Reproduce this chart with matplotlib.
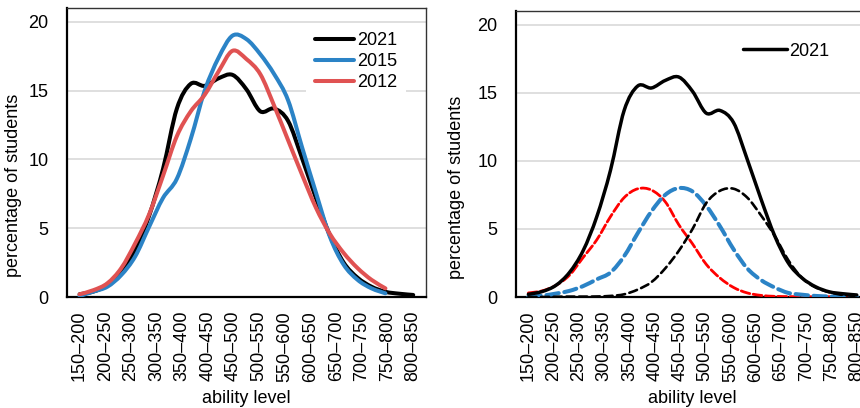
import numpy as np
import matplotlib
matplotlib.use("Agg")
import matplotlib.pyplot as plt
from matplotlib.path import Path
from matplotlib.patches import PathPatch
from matplotlib.lines import Line2D

plt.rcParams["font.family"] = ["Liberation Sans", "DejaVu Sans"]
plt.rcParams["font.size"] = 13

bands = ["150–200", "200–250", "250–300", "300–350", "350–400", "400–450",
         "450–500", "500–550", "550–600", "600–650", "650–700", "700–750",
         "750–800", "800–850"]

# values at 25 evenly spaced spots from the first band to the last
read_at = np.linspace(0, 13, 25)
pct_2021 = [0.2, 0.4, 0.85, 1.8, 3.4, 5.9, 9.3, 13.7, 15.5, 15.35, 15.9, 16.15, 15.1,
            13.5, 13.7, 12.8, 10.1, 7.2, 4.5, 2.5, 1.4, 0.75, 0.38, 0.24, 0.15]
# 2015 and 2012 stop at the 750–800 band
pct_2015 = [0.07, 0.4, 0.75, 1.6, 2.95, 5.1, 7.2, 8.6, 11.5, 15.0, 17.4, 19.0, 18.75,
            17.65, 16.2, 14.3, 10.9, 7.6, 4.4, 2.35, 1.25, 0.63, 0.27]
pct_2012 = [0.2, 0.5, 1.0, 2.1, 3.9, 6.0, 8.8, 11.7, 13.5, 14.7, 16.4, 17.9, 17.3,
            16.2, 13.9, 11.4, 8.9, 6.5, 4.6, 3.2, 2.1, 1.25, 0.63]
# right panel: three component curves under the 2021 distribution
comp_low = [0.3, 0.45, 0.85, 1.6, 2.9, 4.2, 5.9, 7.3, 7.95, 7.85, 7.0, 5.3, 3.9,
            2.4, 1.4, 0.7, 0.3, 0.12, 0.05, 0.03, 0.02, 0.02, 0.02, 0.02, 0.02]
comp_mid = [0.02, 0.1, 0.25, 0.45, 0.8, 1.3, 1.8, 3.0, 4.7, 6.3, 7.5, 8.0, 7.75,
            6.7, 5.2, 3.5, 2.1, 1.25, 0.7, 0.3, 0.17, 0.08, 0.04, 0.02, 0.02]
comp_high = [0.0, 0.0, 0.02, 0.03, 0.03, 0.04, 0.08, 0.2, 0.55, 1.1, 2.1, 3.4, 5.0,
             6.9, 7.8, 7.95, 7.3, 6.0, 4.5, 2.7, 1.4, 0.7, 0.35, 0.15, 0.08]

BLUE = "#2b83c6"
RED = "#e05252"


def smooth_line(ax, vals, **kw):
    """Draw the readings as a smoothed line (like a spreadsheet's 'smoothed line')."""
    pts = np.column_stack([read_at[:len(vals)], vals])
    verts, codes = [pts[0]], [Path.MOVETO]
    n = len(pts)
    for i in range(n - 1):
        p0, p1 = pts[max(i - 1, 0)], pts[i]
        p2, p3 = pts[i + 1], pts[min(i + 2, n - 1)]
        verts += [p1 + (p2 - p0) / 6, p2 - (p3 - p1) / 6, p2]
        codes += [Path.CURVE4] * 3
    patch = PathPatch(Path(verts, codes), fill=False, transform=ax.transData,
                      capstyle="round", joinstyle="round", **kw)
    ax.add_patch(patch)
    return patch


def style_axes(ax):
    ax.set_xlim(-0.5, 13.5)
    ax.set_ylim(0, 21)
    ax.set_yticks([0, 5, 10, 15, 20])
    ax.set_xticks(range(len(bands)))
    ax.set_xticklabels(bands, rotation=90)
    ax.tick_params(axis="both", length=0, labelsize=13)
    ax.tick_params(axis="y", pad=13)
    ax.tick_params(axis="x", pad=10)
    ax.grid(axis="y", color="#d9d9d9", lw=1.2)
    ax.set_axisbelow(True)
    for side in ("left", "bottom"):
        ax.spines[side].set_linewidth(1.6)
        ax.spines[side].set_color("black")
    for side in ("top", "right"):
        ax.spines[side].set_linewidth(1.0)
        ax.spines[side].set_color("#333333")
    ax.set_xlabel("ability level", fontsize=13, labelpad=6)


fig = plt.figure(figsize=(8.6, 4.08), dpi=100)
ax1 = fig.add_axes([0.0776, 0.272, 0.4178, 0.708])
ax2 = fig.add_axes([0.5997, 0.272, 0.4112, 0.701])

for ax in (ax1, ax2):
    style_axes(ax)

smooth_line(ax1, pct_2021, edgecolor="black", lw=2.9, zorder=3)
smooth_line(ax1, pct_2015, edgecolor=BLUE, lw=2.9, zorder=4)
smooth_line(ax1, pct_2012, edgecolor=RED, lw=2.9, zorder=5)
ax1.set_ylabel("percentage of students", fontsize=13)
ax1.yaxis.set_label_coords(-0.124, 0.387)
handles = [Line2D([], [], color=c, lw=2.9, solid_capstyle="round") for c in ("black", BLUE, RED)]
ax1.legend(handles, ["2021", "2015", "2012"], loc="upper left", bbox_to_anchor=(0.64, 0.98),
           handlelength=2.2, handletextpad=0.15, labelspacing=0.22, borderpad=0.5,
           fontsize=13, frameon=True, fancybox=False, framealpha=1, edgecolor="none")

smooth_line(ax2, comp_low, edgecolor="red", lw=2.0, linestyle=(0, (3.2, 1.25)), zorder=3)
smooth_line(ax2, comp_mid, edgecolor=BLUE, lw=2.9, linestyle=(0, (3.1, 1.4)), zorder=3)
smooth_line(ax2, comp_high, edgecolor="black", lw=1.9, linestyle=(0, (3.1, 1.7)), zorder=3)
smooth_line(ax2, pct_2021, edgecolor="black", lw=2.5, zorder=4)
ax2.set_ylabel("percentage of students", fontsize=13)
ax2.yaxis.set_label_coords(-0.143, 0.385)
ax2.legend([Line2D([], [], color="black", lw=2.5, solid_capstyle="round")], ["2021"],
           loc="upper left", bbox_to_anchor=(0.603, 0.94), handlelength=2.4,
           handletextpad=0.15, borderpad=0.3, fontsize=13, frameon=False)

fig.savefig("out.png", dpi=100)
